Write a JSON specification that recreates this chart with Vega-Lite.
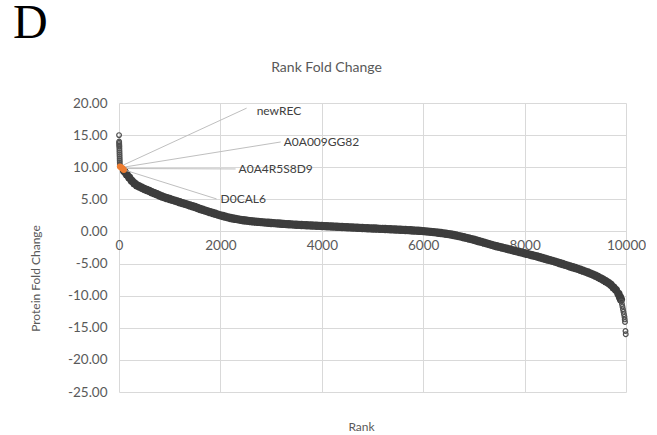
{
  "$schema": "https://vega.github.io/schema/vega-lite/v6.json",
  "background": "white",
  "padding": {"left": 13, "top": 0, "right": 0, "bottom": 0},
  "title": {"text": "D", "anchor": "start", "frame": "bounds", "font": "Liberation Serif", "fontSize": 48, "fontWeight": "normal", "color": "black", "offset": 13, "dx": -16},
  "config": {
    "view": {"stroke": null},
    "axis": {"labelFont": "Lato", "labelFontSize": 13.5, "labelColor": "#595959", "titleFont": "Lato", "titleFontSize": 12, "titleFontWeight": "normal", "titleColor": "#595959", "gridColor": "#d9d9d9", "gridWidth": 1, "domain": false, "ticks": false, "labelOverlap": false, "labelFlush": false}
  },
  "datasets": {
    "band": [
      {"rank":100,"fold":9.4},{"rank":150,"fold":8.9},{"rank":200,"fold":8.4},{"rank":250,"fold":7.9},{"rank":300,"fold":7.5},{"rank":350,"fold":7.2},{"rank":400,"fold":7.0},{"rank":450,"fold":6.8},{"rank":500,"fold":6.6},{"rank":550,"fold":6.45},{"rank":600,"fold":6.3},{"rank":650,"fold":6.1},{"rank":700,"fold":5.95},{"rank":750,"fold":5.8},{"rank":800,"fold":5.6},{"rank":850,"fold":5.45},{"rank":900,"fold":5.3},{"rank":950,"fold":5.18},{"rank":1000,"fold":5.05},{"rank":1050,"fold":4.92},{"rank":1100,"fold":4.8},{"rank":1150,"fold":4.68},{"rank":1200,"fold":4.55},{"rank":1250,"fold":4.42},{"rank":1300,"fold":4.3},{"rank":1350,"fold":4.18},{"rank":1400,"fold":4.05},{"rank":1450,"fold":3.92},{"rank":1500,"fold":3.8},{"rank":1550,"fold":3.65},{"rank":1600,"fold":3.5},{"rank":1650,"fold":3.38},{"rank":1700,"fold":3.25},{"rank":1750,"fold":3.12},{"rank":1800,"fold":3.0},{"rank":1850,"fold":2.88},{"rank":1900,"fold":2.75},{"rank":1950,"fold":2.62},{"rank":2000,"fold":2.5},{"rank":2050,"fold":2.4},{"rank":2100,"fold":2.3},{"rank":2150,"fold":2.2},{"rank":2200,"fold":2.1},{"rank":2250,"fold":2.02},{"rank":2300,"fold":1.95},{"rank":2350,"fold":1.88},{"rank":2400,"fold":1.8},{"rank":2450,"fold":1.75},{"rank":2500,"fold":1.7},{"rank":2550,"fold":1.65},{"rank":2600,"fold":1.6},{"rank":2650,"fold":1.56},{"rank":2700,"fold":1.52},{"rank":2750,"fold":1.48},{"rank":2800,"fold":1.45},{"rank":2850,"fold":1.41},{"rank":2900,"fold":1.38},{"rank":2950,"fold":1.35},{"rank":3000,"fold":1.32},{"rank":3050,"fold":1.29},{"rank":3100,"fold":1.26},{"rank":3150,"fold":1.23},{"rank":3200,"fold":1.2},{"rank":3250,"fold":1.17},{"rank":3300,"fold":1.15},{"rank":3350,"fold":1.12},{"rank":3400,"fold":1.1},{"rank":3450,"fold":1.07},{"rank":3500,"fold":1.05},{"rank":3550,"fold":1.02},{"rank":3600,"fold":1.0},{"rank":3650,"fold":0.98},{"rank":3700,"fold":0.96},{"rank":3750,"fold":0.94},{"rank":3800,"fold":0.92},{"rank":3850,"fold":0.9},{"rank":3900,"fold":0.88},{"rank":3950,"fold":0.87},{"rank":4000,"fold":0.85},{"rank":4050,"fold":0.83},{"rank":4100,"fold":0.81},{"rank":4150,"fold":0.79},{"rank":4200,"fold":0.77},{"rank":4250,"fold":0.75},{"rank":4300,"fold":0.73},{"rank":4350,"fold":0.72},{"rank":4400,"fold":0.7},{"rank":4450,"fold":0.68},{"rank":4500,"fold":0.66},{"rank":4550,"fold":0.64},{"rank":4600,"fold":0.62},{"rank":4650,"fold":0.6},{"rank":4700,"fold":0.58},{"rank":4750,"fold":0.56},{"rank":4800,"fold":0.54},{"rank":4850,"fold":0.52},{"rank":4900,"fold":0.5},{"rank":4950,"fold":0.48},{"rank":5000,"fold":0.46},{"rank":5050,"fold":0.45},{"rank":5100,"fold":0.43},{"rank":5150,"fold":0.41},{"rank":5200,"fold":0.4},{"rank":5250,"fold":0.38},{"rank":5300,"fold":0.36},{"rank":5350,"fold":0.35},{"rank":5400,"fold":0.33},{"rank":5450,"fold":0.31},{"rank":5500,"fold":0.29},{"rank":5550,"fold":0.27},{"rank":5600,"fold":0.25},{"rank":5650,"fold":0.23},{"rank":5700,"fold":0.2},{"rank":5750,"fold":0.18},{"rank":5800,"fold":0.15},{"rank":5850,"fold":0.13},{"rank":5900,"fold":0.1},{"rank":5950,"fold":0.08},{"rank":6000,"fold":0.05},{"rank":6050,"fold":0.01},{"rank":6100,"fold":-0.03},{"rank":6150,"fold":-0.06},{"rank":6200,"fold":-0.1},{"rank":6250,"fold":-0.15},{"rank":6300,"fold":-0.2},{"rank":6350,"fold":-0.25},{"rank":6400,"fold":-0.3},{"rank":6450,"fold":-0.36},{"rank":6500,"fold":-0.42},{"rank":6550,"fold":-0.48},{"rank":6600,"fold":-0.55},{"rank":6650,"fold":-0.63},{"rank":6700,"fold":-0.72},{"rank":6750,"fold":-0.8},{"rank":6800,"fold":-0.9},{"rank":6850,"fold":-1.0},{"rank":6900,"fold":-1.1},{"rank":6950,"fold":-1.2},{"rank":7000,"fold":-1.3},{"rank":7050,"fold":-1.41},{"rank":7100,"fold":-1.52},{"rank":7150,"fold":-1.63},{"rank":7200,"fold":-1.75},{"rank":7250,"fold":-1.86},{"rank":7300,"fold":-1.97},{"rank":7350,"fold":-2.09},{"rank":7400,"fold":-2.2},{"rank":7450,"fold":-2.3},{"rank":7500,"fold":-2.4},{"rank":7550,"fold":-2.5},{"rank":7600,"fold":-2.6},{"rank":7650,"fold":-2.7},{"rank":7700,"fold":-2.8},{"rank":7750,"fold":-2.9},{"rank":7800,"fold":-3.0},{"rank":7850,"fold":-3.1},{"rank":7900,"fold":-3.2},{"rank":7950,"fold":-3.3},{"rank":8000,"fold":-3.4},{"rank":8050,"fold":-3.5},{"rank":8100,"fold":-3.6},{"rank":8150,"fold":-3.7},{"rank":8200,"fold":-3.8},{"rank":8250,"fold":-3.91},{"rank":8300,"fold":-4.02},{"rank":8350,"fold":-4.13},{"rank":8400,"fold":-4.25},{"rank":8450,"fold":-4.36},{"rank":8500,"fold":-4.47},{"rank":8550,"fold":-4.58},{"rank":8600,"fold":-4.7},{"rank":8650,"fold":-4.82},{"rank":8700,"fold":-4.95},{"rank":8750,"fold":-5.07},{"rank":8800,"fold":-5.2},{"rank":8850,"fold":-5.32},{"rank":8900,"fold":-5.45},{"rank":8950,"fold":-5.57},{"rank":9000,"fold":-5.7},{"rank":9050,"fold":-5.83},{"rank":9100,"fold":-5.97},{"rank":9150,"fold":-6.11},{"rank":9200,"fold":-6.25},{"rank":9250,"fold":-6.4},{"rank":9300,"fold":-6.56},{"rank":9350,"fold":-6.73},{"rank":9400,"fold":-6.9},{"rank":9450,"fold":-7.1},{"rank":9500,"fold":-7.3},{"rank":9550,"fold":-7.52},{"rank":9600,"fold":-7.75},{"rank":9650,"fold":-8.0},{"rank":9700,"fold":-8.3},{"rank":9750,"fold":-8.7},{"rank":9800,"fold":-9.1},{"rank":9850,"fold":-9.7},{"rank":9880,"fold":-10.2},{"rank":9900,"fold":-10.6}
    ],
    "outliers": [
      {"rank":1,"fold":15.0},{"rank":3,"fold":14.0},{"rank":4,"fold":13.8},{"rank":5,"fold":13.6},{"rank":6,"fold":13.4},{"rank":7,"fold":13.2},{"rank":8,"fold":12.9},{"rank":9,"fold":12.6},{"rank":10,"fold":12.3},{"rank":11,"fold":12.0},{"rank":12,"fold":11.7},{"rank":13,"fold":11.4},{"rank":14,"fold":11.1},{"rank":15,"fold":10.8},{"rank":16,"fold":10.5},{"rank":17,"fold":10.2},
      {"rank":9910,"fold":-10.9},{"rank":9920,"fold":-11.3},{"rank":9930,"fold":-11.7},{"rank":9940,"fold":-12.1},{"rank":9950,"fold":-12.5},{"rank":9960,"fold":-12.9},{"rank":9970,"fold":-13.3},{"rank":9975,"fold":-13.7},{"rank":9980,"fold":-14.1},{"rank":9990,"fold":-15.5},{"rank":9995,"fold":-16.0}
    ],
    "labels": [
      {"name":"newREC","rank":20,"fold":10.1,"erank":2517,"efold":19.2,"trank":2715,"tfold":18.75},
      {"name":"A0A009GG82","rank":45,"fold":9.95,"erank":3189,"efold":13.93,"trank":3248,"tfold":13.93},
      {"name":"A0A4R5S8D9","rank":70,"fold":9.8,"erank":2300,"efold":9.73,"trank":2359,"tfold":9.73},
      {"name":"D0CAL6","rank":95,"fold":9.6,"erank":1925,"efold":5.06,"trank":2004,"tfold":5.06}
    ]
  },
  "vconcat": [
    {
      "width": 507,
      "height": 289,
      "title": {"text": "Rank Fold Change", "font": "Lato", "fontSize": 14, "fontWeight": "normal", "color": "#595959", "anchor": "middle", "dx": -46, "offset": 21},
      "layer": [
        {
          "data": {"name": "band"},
          "mark": {"type": "point", "shape": "circle", "filled": true, "size": 70, "color": "#3d3d3d", "opacity": 1},
          "encoding": {
            "x": {"field": "rank", "type": "quantitative", "scale": {"domain": [0, 10000], "nice": false, "zero": false},
              "axis": {"values": [0, 2000, 4000, 6000, 8000, 10000], "tickCount": 20, "format": "d", "grid": true, "offset": -160.5, "labelPadding": 7, "labelOverlap": false, "labelFlush": false, "title": "Rank", "titleX": 242, "titleY": 195, "titleBaseline": "middle"}},
            "y": {"field": "fold", "type": "quantitative", "scale": {"domain": [-25, 20], "nice": false, "zero": false},
              "axis": {"values": [-25, -20, -15, -10, -5, 0, 5, 10, 15, 20], "tickCount": 20, "labelExpr": "(datum.value < 0 ? '-' : '') + format(abs(datum.value), '.2f')", "grid": true, "labelOverlap": false, "labelPadding": 12, "title": "Protein Fold Change", "titleX": -84, "titleY": 175, "titleBaseline": "middle", "titleAlign": "center"}}
          }
        },
        {
          "data": {"name": "outliers"},
          "mark": {"type": "point", "shape": "circle", "filled": false, "size": 22, "stroke": "#505050", "strokeWidth": 1.2, "opacity": 1},
          "encoding": {
            "x": {"field": "rank", "type": "quantitative"},
            "y": {"field": "fold", "type": "quantitative"}
          }
        },
        {
          "data": {"name": "labels"},
          "mark": {"type": "rule", "color": "#bfbfbf", "strokeWidth": 1},
          "encoding": {
            "x": {"field": "rank", "type": "quantitative"},
            "y": {"field": "fold", "type": "quantitative"},
            "x2": {"field": "erank"},
            "y2": {"field": "efold"}
          }
        },
        {
          "data": {"name": "labels"},
          "mark": {"type": "point", "shape": "circle", "filled": true, "size": 40, "color": "#ed7d31", "opacity": 1},
          "encoding": {
            "x": {"field": "rank", "type": "quantitative"},
            "y": {"field": "fold", "type": "quantitative"}
          }
        },
        {
          "data": {"name": "labels"},
          "mark": {"type": "text", "font": "Lato", "fontSize": 12, "color": "#404040", "align": "left", "baseline": "middle"},
          "encoding": {
            "x": {"field": "trank", "type": "quantitative"},
            "y": {"field": "tfold", "type": "quantitative"},
            "text": {"field": "name"}
          }
        }
      ]
    }
  ]
}
